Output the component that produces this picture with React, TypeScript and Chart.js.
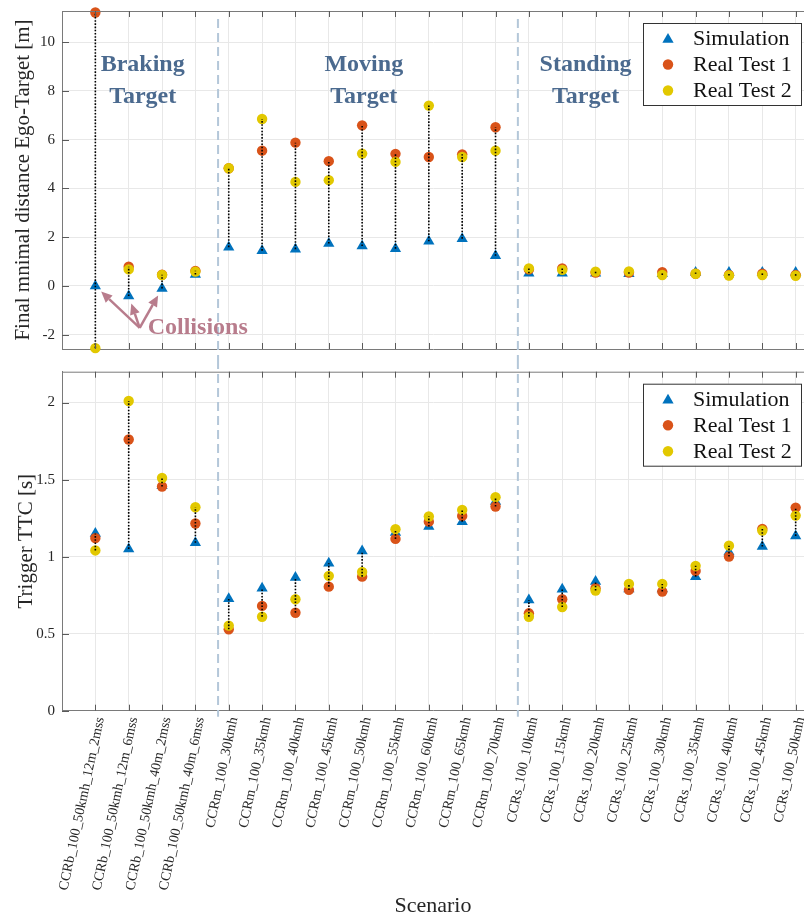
import React, { useEffect, useRef } from 'react';
import { Chart, registerables } from 'chart.js';
Chart.register(...registerables);

const SCENARIOS = [
  'CCRb_100_50kmh_12m_2mss', 'CCRb_100_50kmh_12m_6mss', 'CCRb_100_50kmh_40m_2mss', 'CCRb_100_50kmh_40m_6mss',
  'CCRm_100_30kmh', 'CCRm_100_35kmh', 'CCRm_100_40kmh', 'CCRm_100_45kmh', 'CCRm_100_50kmh',
  'CCRm_100_55kmh', 'CCRm_100_60kmh', 'CCRm_100_65kmh', 'CCRm_100_70kmh',
  'CCRs_100_10kmh', 'CCRs_100_15kmh', 'CCRs_100_20kmh', 'CCRs_100_25kmh', 'CCRs_100_30kmh',
  'CCRs_100_35kmh', 'CCRs_100_40kmh', 'CCRs_100_45kmh', 'CCRs_100_50kmh',
];

const SERIES_NAMES = ['Simulation', 'Real Test 1', 'Real Test 2'];

// Final minimal distance Ego-Target [m]
const distSim = [0, -0.41, -0.1, 0.47, 1.59, 1.45, 1.51, 1.74, 1.64, 1.53, 1.83, 1.94, 1.24, 0.52, 0.52, 0.52, 0.5, 0.5, 0.55, 0.55, 0.55, 0.55];
const distReal1 = [11.22, 0.79, 0.46, 0.62, 4.83, 5.55, 5.88, 5.12, 6.59, 5.42, 5.29, 5.4, 6.51, 0.68, 0.72, 0.55, 0.55, 0.57, 0.5, 0.45, 0.5, 0.45];
const distReal2 = [-2.55, 0.68, 0.45, 0.59, 4.83, 6.85, 4.27, 4.34, 5.43, 5.09, 7.4, 5.29, 5.55, 0.72, 0.66, 0.59, 0.6, 0.45, 0.5, 0.43, 0.45, 0.42];

// Trigger TTC [s]
const ttcSim = [1.15, 1.05, 1.46, 1.09, 0.727, 0.795, 0.864, 0.957, 1.037, 1.156, 1.195, 1.227, 1.357, 0.719, 0.788, 0.838, 0.79, 0.79, 0.87, 1.03, 1.065, 1.134];
const ttcReal1 = [1.12, 1.76, 1.455, 1.215, 0.528, 0.68, 0.636, 0.805, 0.87, 1.115, 1.227, 1.264, 1.325, 0.632, 0.723, 0.795, 0.784, 0.773, 0.907, 1.0, 1.18, 1.318];
const ttcReal2 = [1.04, 2.01, 1.51, 1.32, 0.552, 0.61, 0.723, 0.875, 0.9, 1.178, 1.26, 1.303, 1.386, 0.61, 0.673, 0.78, 0.823, 0.823, 0.94, 1.071, 1.169, 1.266];

const distTicks = [-2, 0, 2, 4, 6, 8, 10];
const ttcTicks = [0, 0.5, 1, 1.5, 2];
const distRange = [-2.585, 11.28];
const ttcRange = [0, 2.2];
const xRange = [0, 22.25];

const separators = [4.68, 13.67];
const groupLabels = [
  { lines: ['Braking', 'Target'], x: 2.42 },
  { lines: ['Moving', 'Target'], x: 9.05 },
  { lines: ['Standing', 'Target'], x: 15.7 },
];
const groupLabelY = [9.07, 7.76];
const collisionIdx = [0, 1, 2];
const collisionOrigin = { x: 2.33, y: -1.72 };

const COLORS = ['#0072BD', '#D95319', '#E2C800'];
const SERIF = '"Liberation Serif", "Times New Roman", serif';
const TEXT = '#262626';
const GRID = '#e8e8e8';
const AXIS = '#7a7a7a';

function drawMarker(ctx: any, style: number, x: number, y: number) {
  ctx.save();
  ctx.fillStyle = COLORS[style];
  ctx.beginPath();
  if (style === 0) {
    const r = 6.5;
    ctx.moveTo(x, y - r);
    ctx.lineTo(x + r * Math.sin((2 * Math.PI) / 3), y - r * Math.cos((2 * Math.PI) / 3));
    ctx.lineTo(x + r * Math.sin((4 * Math.PI) / 3), y - r * Math.cos((4 * Math.PI) / 3));
    ctx.closePath();
  } else {
    ctx.arc(x, y, 5.2, 0, Math.PI * 2);
  }
  ctx.fill();
  ctx.restore();
}

function zeroPad(s: any) {
  s.paddingTop = 0;
  s.paddingBottom = 0;
  s.paddingLeft = 0;
  s.paddingRight = 0;
}

function makeDecor(opts: any) {
  return {
    id: 'decor' + opts.key,
    afterDatasetsDraw(chart: any) {
      const ctx = chart.ctx;
      const xs = chart.scales.x;
      const ys = chart.scales.y;
      const sets = chart.data.datasets;
      ctx.save();
      ctx.strokeStyle = '#000';
      ctx.lineWidth = 1.6;
      ctx.setLineDash([1.6, 1.6]);
      for (let i = 0; i < SCENARIOS.length; i++) {
        const vals = sets.map((d: any) => d.data[i].y);
        const lo = Math.min(...vals);
        const hi = Math.max(...vals);
        const px = xs.getPixelForValue(i + 1);
        ctx.beginPath();
        ctx.moveTo(px, ys.getPixelForValue(lo));
        ctx.lineTo(px, ys.getPixelForValue(hi));
        ctx.stroke();
      }
      ctx.restore();
    },
    afterDraw(chart: any) {
      const ctx = chart.ctx;
      const ca = chart.chartArea;
      const xs = chart.scales.x;
      const ys = chart.scales.y;
      ctx.save();
      // top border
      ctx.strokeStyle = AXIS;
      ctx.lineWidth = 1;
      ctx.beginPath();
      ctx.moveTo(ca.left, ca.top + 0.5);
      ctx.lineTo(ca.right, ca.top + 0.5);
      ctx.stroke();
      // inside ticks
      ctx.strokeStyle = '#5a5a5a';
      for (let i = 1; i <= SCENARIOS.length; i++) {
        const px = Math.round(xs.getPixelForValue(i)) + 0.5;
        ctx.beginPath();
        ctx.moveTo(px, ca.bottom);
        ctx.lineTo(px, ca.bottom - 6);
        ctx.moveTo(px, ca.top);
        ctx.lineTo(px, ca.top + 6);
        ctx.stroke();
      }
      for (const t of opts.yTicks) {
        const py = Math.round(ys.getPixelForValue(t)) + 0.5;
        ctx.beginPath();
        ctx.moveTo(ca.left, py);
        ctx.lineTo(ca.left + 7, py);
        ctx.stroke();
      }
      // separators
      ctx.strokeStyle = '#b4c7d9';
      ctx.lineWidth = 2;
      ctx.setLineDash([9, 5]);
      for (const s of separators) {
        const px = xs.getPixelForValue(s);
        ctx.beginPath();
        ctx.moveTo(px, opts.sepTop);
        ctx.lineTo(px, opts.sepBottom === 'canvas' ? chart.height : ca.bottom + 6);
        ctx.stroke();
      }
      ctx.setLineDash([]);

      // group labels
      if (opts.groups) {
        ctx.fillStyle = '#4b6a8f';
        ctx.font = `bold 24px ${SERIF}`;
        ctx.textAlign = 'center';
        ctx.textBaseline = 'middle';
        for (const g of groupLabels) {
          const px = xs.getPixelForValue(g.x);
          g.lines.forEach((line, k) => {
            ctx.fillText(line, px, ys.getPixelForValue(groupLabelY[k]));
          });
        }
      }

      // collisions
      if (opts.collisions) {
        const col = '#b87c8c';
        const ox = xs.getPixelForValue(collisionOrigin.x);
        const oy = ys.getPixelForValue(collisionOrigin.y);
        ctx.strokeStyle = col;
        ctx.fillStyle = col;
        ctx.lineWidth = 2.5;
        for (const i of collisionIdx) {
          const tx = xs.getPixelForValue(i + 1);
          const ty = ys.getPixelForValue(distSim[i]);
          const dx = ox - tx;
          const dy = oy - ty;
          const len = Math.hypot(dx, dy);
          const ux = dx / len;
          const uy = dy / len;
          const hx = tx + ux * 8;
          const hy = ty + uy * 8;
          const headLen = 11;
          const bx = hx + ux * headLen;
          const by = hy + uy * headLen;
          ctx.beginPath();
          ctx.moveTo(ox, oy);
          ctx.lineTo(bx, by);
          ctx.stroke();
          ctx.beginPath();
          ctx.moveTo(hx, hy);
          ctx.lineTo(bx - uy * 5, by + ux * 5);
          ctx.lineTo(bx + uy * 5, by - ux * 5);
          ctx.closePath();
          ctx.fill();
        }
        ctx.font = `bold 24px ${SERIF}`;
        ctx.textAlign = 'left';
        ctx.textBaseline = 'middle';
        ctx.fillText('Collisions', ox + 8, oy);
      }

      // legend
      const right = chart.width - 3;
      const w = 158;
      const h = 82;
      const left = right - w;
      const top = ca.top + 12;
      ctx.fillStyle = '#fff';
      ctx.fillRect(left, top, w, h);
      ctx.strokeStyle = '#333';
      ctx.lineWidth = 1;
      ctx.strokeRect(left + 0.5, top + 0.5, w, h);
      ctx.font = `22px ${SERIF}`;
      ctx.textAlign = 'left';
      ctx.textBaseline = 'middle';
      SERIES_NAMES.forEach((name, k) => {
        const cy = top + 15.5 + k * 26;
        drawMarker(ctx, k, left + 25, cy + (k === 0 ? 1 : 0));
        ctx.fillStyle = '#111';
        ctx.fillText(name, left + 50, cy + 1);
      });
      ctx.restore();
    },
  };
}

function buildConfig(kind: 'dist' | 'ttc') {
  const isTop = kind === 'dist';
  const series = isTop ? [distSim, distReal1, distReal2] : [ttcSim, ttcReal1, ttcReal2];
  const yTicks = isTop ? distTicks : ttcTicks;
  const yRange = isTop ? distRange : ttcRange;
  const datasets = series.map((vals, k) => ({
    label: SERIES_NAMES[k],
    data: vals.map((v, i) => ({ x: i + 1, y: v })),
    pointStyle: k === 0 ? 'triangle' : 'circle',
    pointRadius: k === 0 ? 6.5 : 5.2,
    pointBackgroundColor: COLORS[k],
    pointBorderColor: COLORS[k],
    pointBorderWidth: 0,
    showLine: false,
    clip: false,
    order: 3 - k,
  }));
  return {
    type: 'scatter',
    data: { datasets },
    options: {
      animation: false,
      responsive: false,
      devicePixelRatio: 1,
      layout: { autoPadding: false, padding: { top: isTop ? 11 : 11.7, left: 0, right: 0, bottom: 0 } },
      plugins: { legend: { display: false }, tooltip: { enabled: false } },
      scales: {
        x: {
          type: 'linear',
          min: xRange[0],
          max: xRange[1],
          afterBuildTicks: (s: any) => {
            s.ticks = SCENARIOS.map((_, i) => ({ value: i + 1 }));
          },
          afterFit: (s: any) => {
            s.height = isTop ? 11 : 206.3;
            zeroPad(s);
          },
          grid: { color: GRID, drawTicks: false },
          border: { color: AXIS },
          ticks: {
            display: !isTop,
            autoSkip: false,
            minRotation: 78,
            maxRotation: 78,
            padding: 5,
            labelOffset: 5,
            color: TEXT,
            font: { family: SERIF, size: 14 },
            callback: (v: any) => SCENARIOS[Math.round(v) - 1] ?? '',
          },
          title: {
            display: !isTop,
            text: 'Scenario',
            color: TEXT,
            font: { family: SERIF, size: 22 },
            padding: { top: 0, bottom: -2 },
          },
        },
        y: {
          type: 'linear',
          min: yRange[0],
          max: yRange[1],
          afterBuildTicks: (s: any) => {
            s.ticks = yTicks.map((v) => ({ value: v }));
          },
          afterFit: (s: any) => {
            s.width = 62;
            zeroPad(s);
          },
          grid: { color: GRID, drawTicks: false },
          border: { color: AXIS },
          ticks: {
            padding: 7,
            color: TEXT,
            font: { family: SERIF, size: 15 },
            callback: (v: any) => String(v),
          },
          title: {
            display: true,
            text: isTop ? 'Final mnimal distance Ego-Target [m]' : 'Trigger TTC [s]',
            color: TEXT,
            font: { family: SERIF, size: 21 },
            padding: { top: isTop ? 11 : 14, bottom: 0 },
          },
        },
      },
    },
    plugins: [
      makeDecor({
        key: kind,
        yTicks,
        groups: isTop,
        collisions: isTop,
        sepTop: isTop ? 19 : 0,
        sepBottom: isTop ? 'canvas' : 'area',
      }),
    ],
  };
}

export default function App() {
  const topRef = useRef<HTMLCanvasElement>(null);
  const botRef = useRef<HTMLCanvasElement>(null);
  useEffect(() => {
    const c1 = new Chart(topRef.current as any, buildConfig('dist') as any);
    const c2 = new Chart(botRef.current as any, buildConfig('ttc') as any);
    return () => {
      c1.destroy();
      c2.destroy();
    };
  }, []);
  return (
    <div style={{ position: 'absolute', left: 0, top: 0, width: 804, height: 917, background: '#fff', overflow: 'hidden' }}>
      <canvas ref={topRef} width={804} height={360} style={{ position: 'absolute', left: 0, top: 0, width: 804, height: 360 }} />
      <canvas ref={botRef} width={804} height={557} style={{ position: 'absolute', left: 0, top: 360, width: 804, height: 557 }} />
    </div>
  );
}
